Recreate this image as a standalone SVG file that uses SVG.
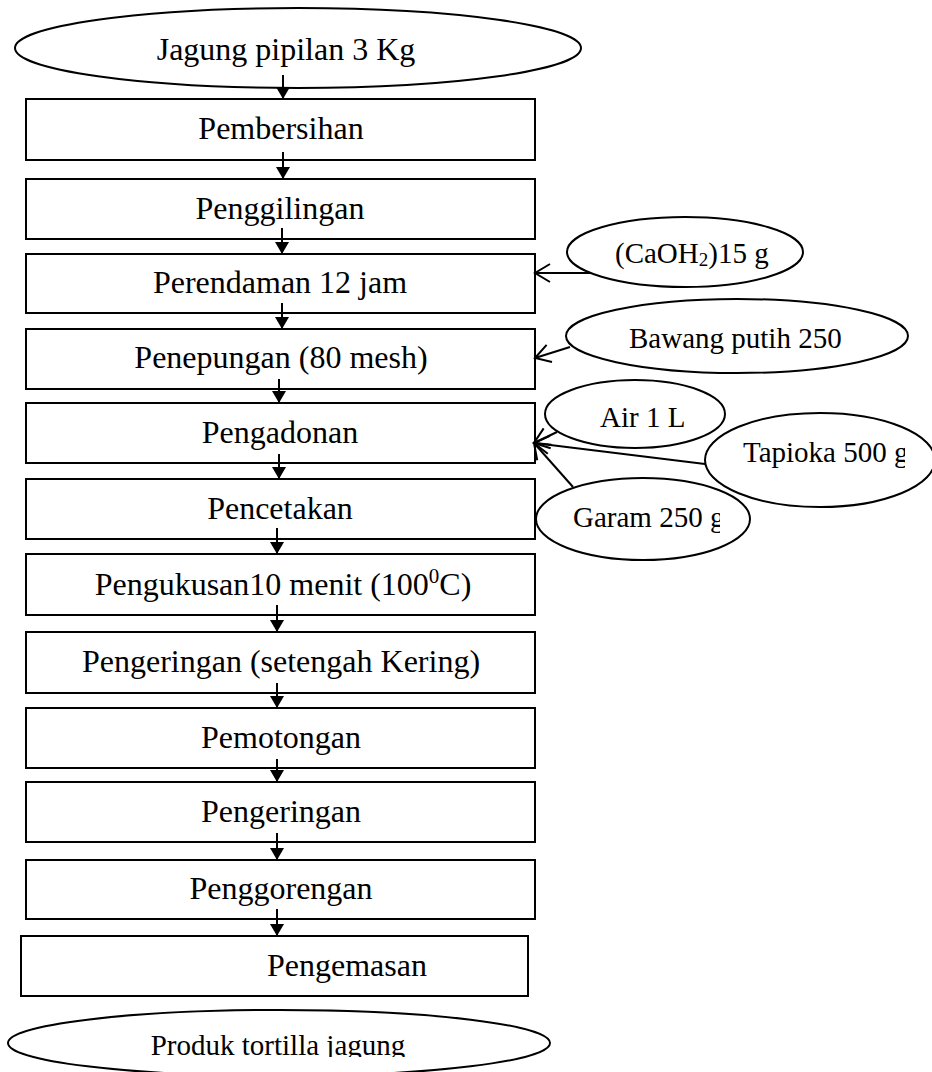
<svg xmlns="http://www.w3.org/2000/svg" width="932" height="1072" viewBox="0 0 932 1072">
<style>
.box{fill:#fff;stroke:#000;stroke-width:2}
.ell{fill:#fff;stroke:#000;stroke-width:2}
.t{font-family:"Liberation Serif","Times New Roman",serif;font-size:32px;fill:#000;text-anchor:middle}
.s{font-family:"Liberation Serif","Times New Roman",serif;font-size:29px;fill:#000}
.ln{stroke:#000;stroke-width:2;fill:none}
</style>
<defs>
<marker id="fa" markerUnits="userSpaceOnUse" viewBox="0 -8 13 16" refX="12" refY="0" markerWidth="13" markerHeight="16" orient="auto">
<path d="M0,-7 L12,0 L0,7 z" fill="#000"/>
</marker>
<marker id="oa" markerUnits="userSpaceOnUse" viewBox="-18 -12 20 24" refX="0" refY="0" markerWidth="20" markerHeight="24" orient="auto">
<path d="M-15,-9 L0,0 L-15,9" fill="none" stroke="#000" stroke-width="2"/>
</marker>
<clipPath id="cTap"><rect x="600" y="400" width="305" height="120"/></clipPath>
<clipPath id="cGar"><rect x="530" y="470" width="190" height="100"/></clipPath>
<clipPath id="cProd"><rect x="0" y="1000" width="600" height="57"/></clipPath>
</defs>

<g id="n-start"><ellipse class="ell" cx="298" cy="48" rx="283" ry="40"/><text class="t" x="286" y="60">Jagung pipilan 3 Kg</text></g>
<g id="n1"><rect class="box" x="26" y="99" width="509" height="61"/><text class="t" x="281" y="139">Pembersihan</text></g>
<g id="n2"><rect class="box" x="26" y="179" width="509" height="60"/><text class="t" x="280" y="219">Penggilingan</text></g>
<g id="n3"><rect class="box" x="26" y="254" width="509" height="59"/><text class="t" x="280" y="293">Perendaman 12 jam</text></g>
<g id="n4"><rect class="box" x="26" y="329" width="509" height="60"/><text class="t" x="281" y="368">Penepungan (80 mesh)</text></g>
<g id="n5"><rect class="box" x="26" y="403" width="509" height="60"/><text class="t" x="280" y="443">Pengadonan</text></g>
<g id="n6"><rect class="box" x="26" y="479" width="509" height="60"/><text class="t" x="280" y="519">Pencetakan</text></g>
<g id="n7"><rect class="box" x="26" y="554" width="509" height="61"/><text class="t" x="283" y="595">Pengukusan10 menit (100<tspan font-size="21" dy="-12">0</tspan><tspan dy="12">C)</tspan></text></g>
<g id="n8"><rect class="box" x="26" y="632" width="509" height="61"/><text class="t" x="281" y="672">Pengeringan (setengah Kering)</text></g>
<g id="n9"><rect class="box" x="26" y="708" width="509" height="60"/><text class="t" x="281" y="748">Pemotongan</text></g>
<g id="n10"><rect class="box" x="26" y="782" width="509" height="60"/><text class="t" x="281" y="822">Pengeringan</text></g>
<g id="n11"><rect class="box" x="26" y="860" width="509" height="59"/><text class="t" x="281" y="899">Penggorengan</text></g>
<g id="n12"><rect class="box" x="21" y="936" width="507" height="60"/><text class="t" x="347" y="976">Pengemasan</text></g>
<g id="n-end"><ellipse class="ell" cx="279" cy="1043" rx="271" ry="33"/><text class="s" x="278" y="1055" text-anchor="middle" clip-path="url(#cProd)">Produk tortilla jagung</text></g>

<g id="i-caoh"><ellipse class="ell" cx="685" cy="252" rx="118" ry="35"/><text class="s" x="615" y="263">(CaOH<tspan font-size="19" dy="3">2</tspan><tspan dy="-3">)15 g</tspan></text></g>
<g id="i-bawang"><ellipse class="ell" cx="737" cy="336" rx="171" ry="37"/><text class="s" x="629" y="348">Bawang putih 250</text></g>
<g id="i-air"><ellipse class="ell" cx="635" cy="414" rx="90" ry="34"/><text class="s" x="600" y="427">Air 1 L</text></g>
<g id="i-tapioka"><ellipse class="ell" cx="820" cy="460" rx="115" ry="47"/><text class="s" x="743" y="462" clip-path="url(#cTap)">Tapioka 500 g</text></g>
<g id="i-garam"><ellipse class="ell" cx="643" cy="519" rx="107" ry="41"/><text class="s" x="573" y="527" clip-path="url(#cGar)">Garam 250 g</text></g>

<g id="connectors">
<line class="ln" x1="283" y1="75" x2="283" y2="99" marker-end="url(#fa)"/>
<line class="ln" x1="283" y1="152" x2="283" y2="179" marker-end="url(#fa)"/>
<line class="ln" x1="282" y1="228" x2="282" y2="254" marker-end="url(#fa)"/>
<line class="ln" x1="282" y1="303" x2="282" y2="329" marker-end="url(#fa)"/>
<line class="ln" x1="279" y1="379" x2="279" y2="403" marker-end="url(#fa)"/>
<line class="ln" x1="279" y1="454" x2="279" y2="479" marker-end="url(#fa)"/>
<line class="ln" x1="277" y1="528" x2="277" y2="554" marker-end="url(#fa)"/>
<line class="ln" x1="277" y1="605" x2="277" y2="632" marker-end="url(#fa)"/>
<line class="ln" x1="277" y1="683" x2="277" y2="708" marker-end="url(#fa)"/>
<line class="ln" x1="277" y1="759" x2="277" y2="782" marker-end="url(#fa)"/>
<line class="ln" x1="277" y1="833" x2="277" y2="860" marker-end="url(#fa)"/>
<line class="ln" x1="277" y1="909" x2="277" y2="936" marker-end="url(#fa)"/>
<line class="ln" x1="590" y1="273" x2="535" y2="273" marker-end="url(#oa)"/>
<line class="ln" x1="570" y1="347" x2="535" y2="358" marker-end="url(#oa)"/>
<line class="ln" x1="557" y1="432" x2="534" y2="443" marker-end="url(#oa)"/>
<line class="ln" x1="705" y1="464" x2="534" y2="443" marker-end="url(#oa)"/>
<line class="ln" x1="573" y1="487" x2="534" y2="443" marker-end="url(#oa)"/>
</g>
</svg>
